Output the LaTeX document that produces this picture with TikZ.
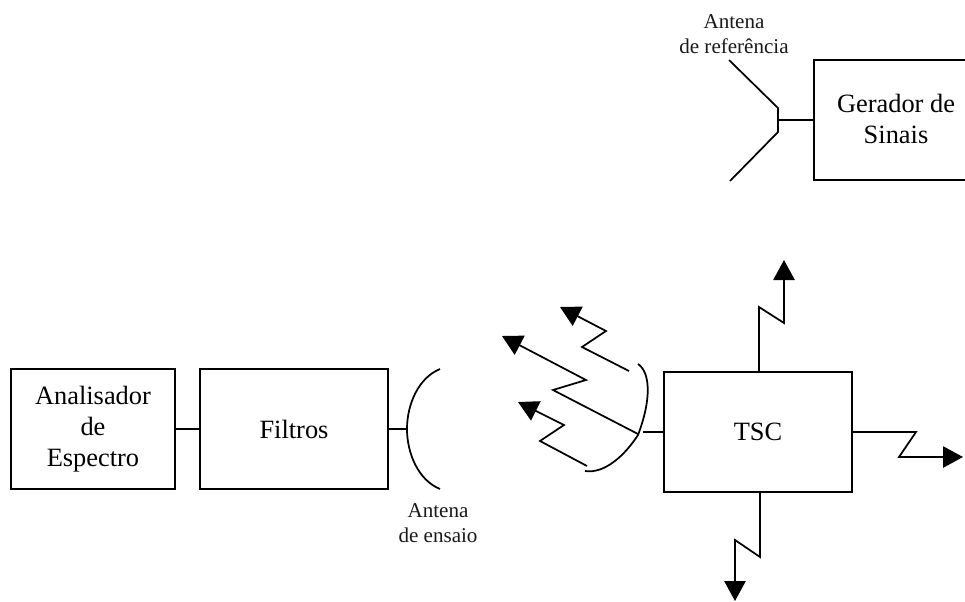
\documentclass[tikz,border=0pt]{standalone}
\usepackage{fontspec}
\setmainfont{Liberation Serif}
\usetikzlibrary{arrows.meta}
\tikzset{
  block/.style={draw=black,line width=1.3pt,inner sep=0pt,outer sep=0pt,align=center,font=\fontsize{19.8}{23.4}\selectfont},
  wire/.style={draw=black,line width=1.3pt,line join=miter},
  ray/.style={wire,-{Triangle[length=15pt,width=16pt]}},
  caption/.style={inner sep=0pt,align=center,font=\fontsize{15.8}{18.6}\selectfont,text=black!90}
}
\begin{document}
\begin{tikzpicture}[x=0.75pt,y=-0.75pt]
\path[use as bounding box,clip] (0,0) rectangle (965,601);
% blocks
\node[block,minimum width=123pt,minimum height=90pt] (an) at (93,429) {Analisador\\de\\Espectro};
\node[block,minimum width=141pt,minimum height=90pt] (fi) at (294,429) {Filtros};
\node[block,minimum width=141pt,minimum height=90pt] (ts) at (758,432) {TSC};
\node[block,minimum width=123pt,minimum height=90pt] (ge) at (896,120) {Gerador de\\Sinais\rule[-2pt]{0pt}{0pt}};
% labels
\node[caption] (l1) at (734,34) {Antena\\de referência};
\node[caption] (l2) at (438,523) {Antena\\de ensaio};
% links
\draw[wire] (an.east) -- (fi.west);
% test antenna
\coordinate (ae) at (407,429);
\draw[wire] (440,369) .. controls (418,378) and (407,405) .. (ae) .. controls (407,453) and (418,480) .. (440,489);
\draw[wire] (fi.east) -- (ae);
% reference antenna
\coordinate (ar) at (778,120);
\draw[wire] (729,60) -- (778,108) -- (778,132) -- (730,181);
\draw[wire] (ar) -- (ge.west);
% reflector
\coordinate (rv) at (643,432);
\draw[wire] (638,364) .. controls (650,372) and (652,398) .. (638,435) .. controls (625,455) and (605,474) .. (585,471);
\draw[wire] (rv) -- (ts.west);
% rays from reflector
\draw[ray] (629,371) -- (582,347) -- (606,331) -- (560,307);
\draw[ray] (638,434) -- (553,390) -- (586,380) -- (502,336);
\draw[ray] (587,466) -- (540,441) -- (564,425) -- (518,402);
% rays from TSC
\draw[ray] (ts.north) ++(1,0) -- (759,307) -- (784,323) -- (784,260);
\draw[ray] (ts.east) -- (916,432) -- (899,457) -- (963,457);
\draw[ray] (ts.south) ++(2,0) -- (760,557) -- (735,540) -- (735,601);
\end{tikzpicture}
\end{document}
